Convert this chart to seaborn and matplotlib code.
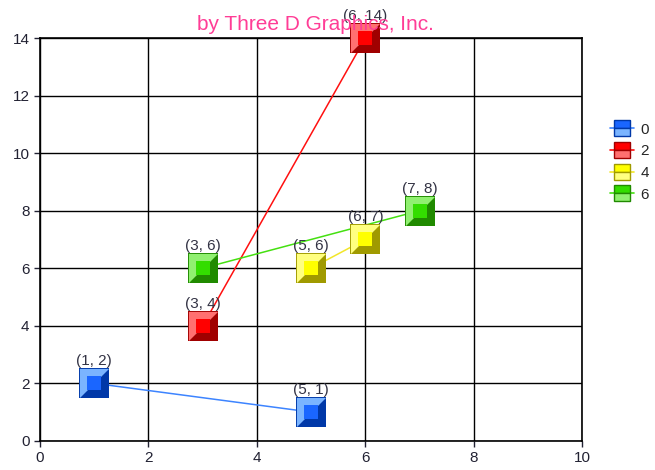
import pandas as pd
import seaborn as sns
import matplotlib.pyplot as plt
from matplotlib.lines import Line2D

# data
series = ["0", "0", "2", "2", "4", "4", "6", "6"]
x_vals = [1, 5, 3, 6, 5, 6, 3, 7]
y_vals = [2, 1, 4, 14, 6, 7, 6, 8]

df = pd.DataFrame({"series": series, "x": x_vals, "y": y_vals})

line_colors = {"0": "#3d84ff", "2": "#ff1010", "4": "#f2e62a", "6": "#44e010"}
light_colors = {"0": "#7ab4ff", "2": "#ff7070", "4": "#ffff80", "6": "#90f070"}
dark_colors = {"0": "#0038a8", "2": "#a00000", "4": "#a09a00", "6": "#208a00"}
mid_colors = {"0": "#1a66ff", "2": "#ff0000", "4": "#ffff00", "6": "#33dd00"}

# upper-left triangle of a square, for the bevel
tri = [(-1, -1), (-1, 1), (1, 1), (-1, -1)]

sns.set_theme(style="white")
plt.rcParams["font.family"] = ["Liberation Sans", "DejaVu Sans"]

fig = plt.figure(figsize=(6.55, 4.7), dpi=100)
ax = fig.add_axes([0.061, 0.062, 0.828, 0.857])

# lines
sns.lineplot(data=df, x="x", y="y", hue="series", palette=line_colors,
             linewidth=1.1, legend=False, ax=ax, sort=False, zorder=3)

# bevelled square markers
for s in line_colors:
    d = df[df["series"] == s]
    ax.scatter(d["x"], d["y"], marker="s", s=440, color=dark_colors[s], zorder=4,
               linewidths=0, clip_on=False)
    ax.scatter(d["x"], d["y"], marker=tri, s=440, color=light_colors[s], zorder=5,
               linewidths=0, clip_on=False)
    ax.scatter(d["x"], d["y"], marker="s", s=100, color=mid_colors[s], zorder=6,
               linewidths=0, clip_on=False)

# point labels
for xx, yy in zip(x_vals, y_vals):
    ax.annotate(f"({xx}, {yy})", (xx, yy), xytext=(0, 13), textcoords="offset points",
                ha="center", va="baseline", fontsize=11, color="#333344", zorder=7,
                annotation_clip=False)

ax.set_xlim(0, 10)
ax.set_ylim(0, 14)
ax.set_xticks(range(0, 11, 2))
ax.set_yticks(range(0, 15, 2))
ax.grid(True, color="black", linewidth=1)
for sp in ax.spines.values():
    sp.set_color("black")
    sp.set_linewidth(1.2)
ax.tick_params(axis="both", labelsize=11, colors="#222233", length=4, width=1,
               bottom=True, left=True, direction="out")
ax.set_xlabel("")
ax.set_ylabel("")

fig.text(0.482, 0.936, "by Three D Graphics, Inc.", ha="center", va="baseline",
         fontsize=15, color="#ff3d96", zorder=10)

handles = [Line2D([0], [0], color=line_colors[s], lw=1.2, marker="s", markersize=12,
                  markerfacecolor=mid_colors[s], markeredgecolor=dark_colors[s],
                  markerfacecoloralt=light_colors[s], fillstyle="top")
           for s in line_colors]
fig.legend(handles, list(line_colors.keys()), loc="center left",
           bbox_to_anchor=(0.915, 0.655), frameon=False, fontsize=11,
           handlelength=1.6, labelspacing=0.5, handletextpad=0.4, borderpad=0.2)

fig.savefig("out.png", dpi=100)
